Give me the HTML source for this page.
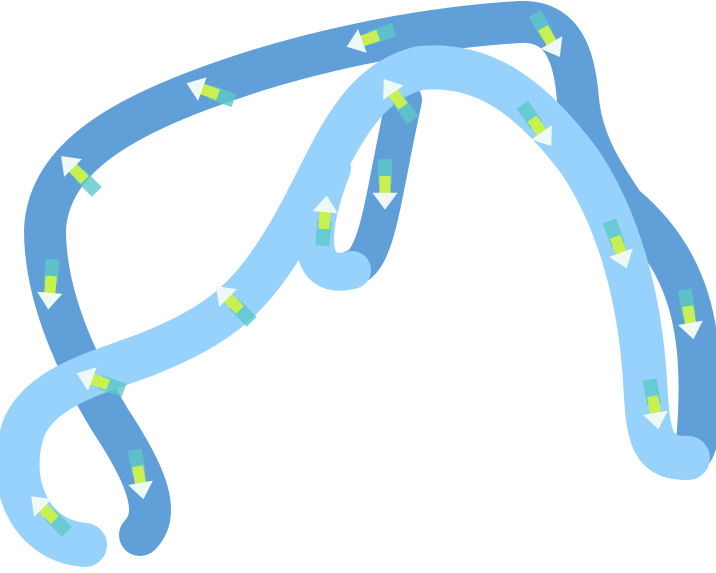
<!DOCTYPE html>
<html><head><meta charset="utf-8"><style>
html,body{margin:0;padding:0;background:#fff;width:716px;height:573px;overflow:hidden}
</style></head><body>
<svg width="716" height="573" viewBox="0 0 716 573">
<g fill="none" stroke-linecap="round" stroke-linejoin="round">
<path stroke="#609fd8" stroke-width="42" d="M140,535 C160,515 150,480 110,420 C80,370 45,300 45,230 C48,160 120,120 200,90 C300,52 420,28 520,22 C565,20 575,60 578,100 C582,140 600,170 624,205 C690,260 705,330 698,430 C697,448 690,455 688,455"/>
<path stroke="#609fd8" stroke-width="36" d="M352,268 C378,262 382,200 404,100"/>
<path stroke="#96d2fb" stroke-width="44" d="M85,545 C25,540 5,475 25,425 C45,385 100,372 145,355 C220,325 250,300 290,232 C330,165 350,85 420,68 C482,62 530,95 580,162 C620,222 640,300 645,380 C648,440 652,458 688,458"/>
<path stroke="#96d2fb" stroke-width="38" d="M332,168 C308,230 305,282 352,270"/>
</g>
<g id="arrows"></g>
</svg>
<script>
// hand-placed decorative arrows: [x, y, angle]
const arrowX=[75,205,365,395,540,550,325,385,230,95,50,140,45,620,690,655];
const arrowY=[170,90,40,95,130,40,215,190,300,380,290,480,510,250,320,410];
const arrowA=[225,200,160,235,55,60,275,90,225,200,95,80,225,70,80,80];
const g=document.getElementById('arrows');
for(let i=0;i<arrowX.length;i++){
  const el=document.createElementNS('http://www.w3.org/2000/svg','g');
  
  
  el.setAttribute('transform',`translate(${arrowX[i]},${arrowY[i]}) rotate(${arrowA[i]}) scale(1.4)`);
  el.innerHTML='<rect x="-22" y="-5" width="18" height="10" fill="#5cc8c8" opacity="0.8"/><rect x="-10" y="-4" width="14" height="8" fill="#c8f050"/><polygon points="2,-9 14,0 2,9" fill="#eef8f4"/>';
  g.appendChild(el);
}
</script>
</body></html>
